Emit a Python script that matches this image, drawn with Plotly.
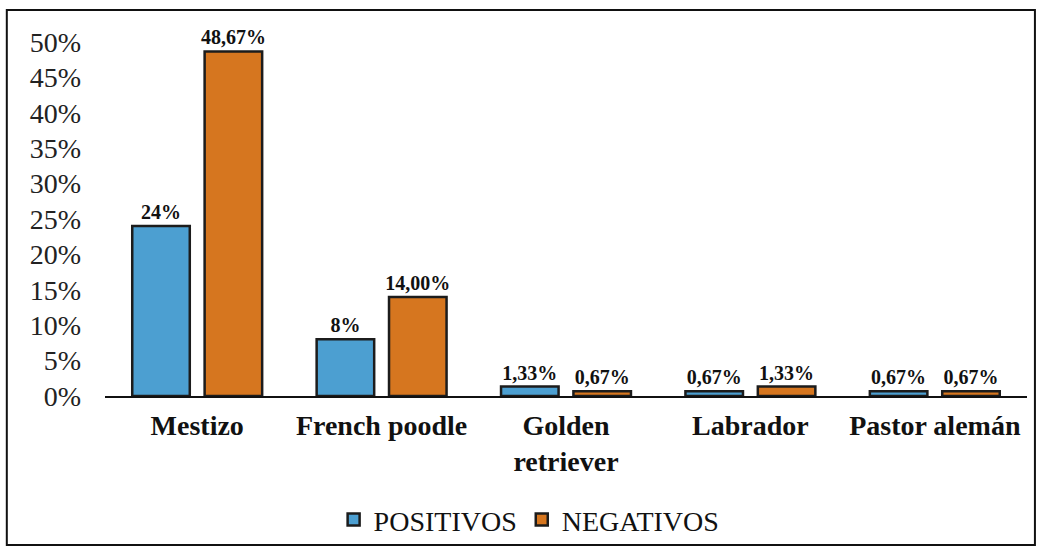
import plotly.graph_objects as go

razas = ["Mestizo", "French poodle", "Golden<br>retriever", "Labrador", "Pastor alemán"]
positivos = [24.0, 8.0, 1.33, 0.67, 0.67]
negativos = [48.67, 14.00, 0.67, 1.33, 0.67]
etiquetas_pos = ["24%", "8%", "1,33%", "0,67%", "0,67%"]
etiquetas_neg = ["48,67%", "14,00%", "0,67%", "1,33%", "0,67%"]
ticks_y = [0, 5, 10, 15, 20, 25, 30, 35, 40, 45, 50]
ticks_y_txt = [f"{v}%" for v in ticks_y]

serif = "Liberation Serif, serif"
borde = dict(color="#1c1c1c", width=2.5)

fig = go.Figure()
fig.add_trace(go.Bar(
    name="POSITIVOS", x=razas, y=positivos,
    text=etiquetas_pos, textposition="outside", textangle=0,
    constraintext="none",
    textfont=dict(family=serif, size=20, color="#111"),
    marker=dict(color="#4c9fd1", line=borde),
    cliponaxis=False,
))
fig.add_trace(go.Bar(
    name="NEGATIVOS", x=razas, y=negativos,
    text=etiquetas_neg, textposition="outside", textangle=0,
    constraintext="none",
    textfont=dict(family=serif, size=20, color="#111"),
    marker=dict(color="#d6761f", line=borde),
    cliponaxis=False,
))

fig.update_layout(
    width=1050, height=551,
    margin=dict(l=105, r=23, t=42, b=155, autoexpand=False),
    paper_bgcolor="white", plot_bgcolor="white",
    barmode="group", bargap=0.215, bargroupgap=0.205,
    font=dict(family=serif, color="#111"),
    xaxis=dict(
        showline=True, linecolor="#111", linewidth=2,
        ticks="", showgrid=False, automargin=False,
        tickfont=dict(family=serif, size=28, color="#111"),
        ticklabelstandoff=3,
    ),
    yaxis=dict(
        range=[0, 50], tickvals=ticks_y, ticktext=ticks_y_txt,
        showgrid=False, showline=False, zeroline=False, ticks="",
        automargin=False,
        tickfont=dict(family=serif, size=28, color="#222"),
        ticklabelstandoff=23,
    ),
    legend=dict(
        orientation="h", x=0.46, xanchor="center", y=-0.35, yanchor="middle",
        font=dict(family=serif, size=28, color="#111"),
        bgcolor="rgba(0,0,0,0)",
        itemwidth=30, traceorder="normal",
    ),
    shapes=[dict(
        type="rect", xref="paper", yref="paper",
        x0=-0.1065, x1=1.0086, y0=-0.4209, y1=1.0904,
        line=dict(color="#111", width=2), fillcolor="rgba(0,0,0,0)",
        layer="below",
    )],
)

# Bold category names on the x axis
fig.update_xaxes(tickvals=razas, ticktext=[f"<b>{r}</b>" for r in razas])
fig.update_traces(texttemplate="<b>%{text}</b>")

fig.write_html("out.html")
